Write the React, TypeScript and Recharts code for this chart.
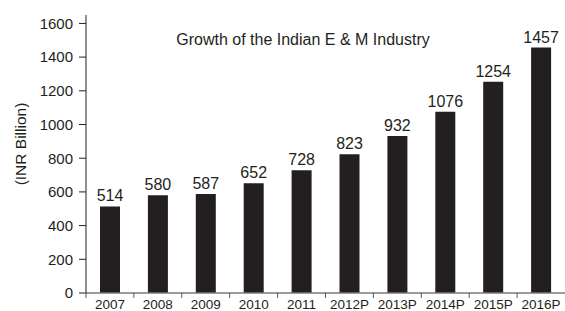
import { BarChart, Bar, XAxis, YAxis, LabelList } from "recharts";

const years = ["2007", "2008", "2009", "2010", "2011", "2012P", "2013P", "2014P", "2015P", "2016P"];
const revenue = [514, 580, 587, 652, 728, 823, 932, 1076, 1254, 1457];
const yTicks = [0, 200, 400, 600, 800, 1000, 1200, 1400, 1600];

const data = years.map((year, i) => ({ year, value: revenue[i] }));

const FONT = "'Liberation Sans', Arial, sans-serif";
const INK = "#231f20";

// category ticks sit between the bars, so draw them at the band edge
function YearTick(props: any) {
  const { x, y, payload } = props;
  const half = payload?.offset ?? 24;
  return (
    <g>
      <line x1={x - half} x2={x - half} y1={y} y2={y + 5} stroke="#555" strokeWidth={1} />
      <text x={x} y={y + 16} textAnchor="middle" fontSize={13.5} fontFamily={FONT} fill={INK}>
        {payload.value}
      </text>
    </g>
  );
}

function AxisTitle() {
  return (
    <text
      x={26}
      y={144}
      transform="rotate(-90, 26, 144)"
      textAnchor="middle"
      fontSize={15.5}
      fontFamily={FONT}
      fill={INK}
    >
      (INR Billion)
    </text>
  );
}

export default function App() {
  return (
    <div style={{ position: "absolute", left: 0, top: 0, width: 565, height: 311, background: "#fff" }}>
      <div
        style={{
          position: "absolute",
          left: 0,
          width: 606,
          top: 32,
          textAlign: "center",
          fontFamily: FONT,
          fontSize: 16,
          color: INK,
          lineHeight: "16px",
          whiteSpace: "nowrap",
        }}
      >
        Growth of the Indian E &amp; M Industry
      </div>
      <BarChart
        width={565}
        height={311}
        data={data}
        margin={{ top: 15, right: 0, left: 0, bottom: 0 }}
        barCategoryGap={0}
      >
        <XAxis
          dataKey="year"
          height={18}
          tickLine={false}
          tickSize={0}
          tickMargin={0}
          tick={<YearTick />}
          interval={0}
          axisLine={{ stroke: "#7a7a7a", strokeWidth: 1.5 }}
        />
        <YAxis
          width={86}
          domain={[0, 1650]}
          ticks={yTicks}
          interval={0}
          tickSize={7}
          tickMargin={6}
          tick={{ fontSize: 15, fontFamily: FONT, fill: INK }}
          tickLine={{ stroke: INK }}
          axisLine={{ stroke: INK }}
          label={{ content: () => <AxisTitle /> }}
        />
        <Bar dataKey="value" fill={INK} barSize={20} isAnimationActive={false}>
          <LabelList dataKey="value" position="top" offset={5} fontSize={16} fontFamily={FONT} fill={INK} />
        </Bar>
      </BarChart>
    </div>
  );
}
